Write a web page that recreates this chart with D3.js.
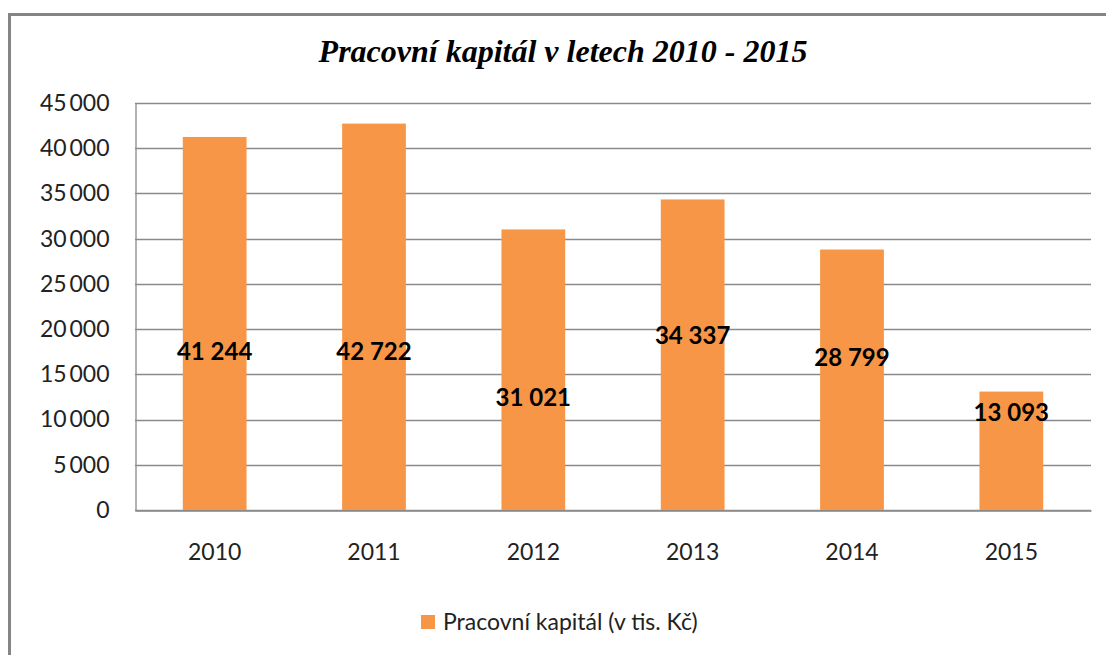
<!DOCTYPE html>
<html>
<head>
<meta charset="utf-8">
<script src="https://cdn.jsdelivr.net/npm/d3@7"></script>
<style>
  body { margin: 0; background: #fff; }
  svg { display: block; }
</style>
</head>
<body>
<div id="chart"></div>
<script>
// chart data
const years = ["2010", "2011", "2012", "2013", "2014", "2015"];
const values = [41244, 42722, 31021, 34337, 28799, 13093];
// where each data label sits, in axis units (labels were moved by hand in the original)
const labelAt = [17500, 17500, 12400, 19300, 16800, 10800];
const yTicks = [0, 5000, 10000, 15000, 20000, 25000, 30000, 35000, 40000, 45000];
const title = "Pracovní kapitál v letech 2010 - 2015";
const seriesName = "Pracovní kapitál (v tis. Kč)";

const width = 1106;
const height = 655;
const margin = { top: 103, right: 15, bottom: 145, left: 135 };

const svg = d3.select("#chart")
  .append("svg")
  .attr("width", width)
  .attr("height", height);

// frame lines (left and top)
svg.append("path")
  .attr("d", `M9.5,${height} V14.5 H${width}`)
  .attr("fill", "none")
  .attr("stroke", "#858585")
  .attr("stroke-width", 3);

const x = d3.scaleBand()
  .domain(years)
  .range([margin.left, width - margin.right])
  .paddingInner(0.6)
  .paddingOuter(0.3);

const y = d3.scaleLinear()
  .domain([0, 45000])
  .range([height - margin.bottom, margin.top]);

//number format with space as thousands separator
const fmt = d3.formatLocale({ thousands: "\u2009", grouping: [3], decimal: ",", currency: ["", ""] }).format(",d");
const fmtLabel = d3.formatLocale({ thousands: " ", grouping: [3], decimal: ",", currency: ["", ""] }).format(",d");

// grid
svg.append("g")
  .selectAll("line")
  .data(yTicks)
  .join("line")
  .attr("x1", margin.left)
  .attr("x2", width - margin.right)
  .attr("y1", d => Math.round(y(d)) + 0.5)
  .attr("y2", d => Math.round(y(d)) + 0.5)
  .attr("stroke", "#8a8a8a")
  .attr("stroke-width", 1.3);

// y axis
const yAxis = svg.append("g")
  .attr("transform", `translate(${margin.left + 0.5},0)`)
  .call(d3.axisLeft(y).tickValues(yTicks).tickFormat(fmt).tickSize(0).tickPadding(26));
yAxis.select(".domain").attr("stroke", "#8a8a8a").attr("stroke-width", 1.3);
yAxis.selectAll("text")
  .attr("font-family", "Lato, 'Open Sans', sans-serif")
  .attr("font-size", 23)
  .attr("fill", "#222");

// x axis
const xAxis = svg.append("g")
  .attr("transform", `translate(0,${Math.round(y(0)) + 0.5})`)
  .call(d3.axisBottom(x).tickSize(0).tickPadding(33));
xAxis.select(".domain").attr("stroke", "#8a8a8a").attr("stroke-width", 1.3);
xAxis.selectAll("text")
  .attr("font-family", "Lato, 'Open Sans', sans-serif")
  .attr("font-size", 23)
  .attr("fill", "#222");

// bars
svg.append("g")
  .selectAll("rect")
  .data(values)
  .join("rect")
  .attr("x", (d, i) => x(years[i]))
  .attr("width", x.bandwidth())
  .attr("y", d => y(d))
  .attr("height", d => y(0) - y(d))
  .attr("fill", "#F79646");

// data labels
svg.append("g")
  .selectAll("text")
  .data(values)
  .join("text")
  .attr("x", (d, i) => x(years[i]) + x.bandwidth() / 2)
  .attr("y", (d, i) => y(labelAt[i]))
  .attr("dy", "0.35em")
  .attr("text-anchor", "middle")
  .attr("font-family", "Lato, 'Open Sans', sans-serif")
  .attr("font-weight", "bold")
  .attr("font-size", 24)
  .attr("fill", "#000")
  .text(d => fmtLabel(d));

// title
svg.append("text")
  .attr("x", 563)
  .attr("y", 62)
  .attr("text-anchor", "middle")
  .attr("font-family", "'Liberation Serif', 'Times New Roman', serif")
  .attr("font-style", "italic")
  .attr("font-weight", "bold")
  .attr("font-size", 32)
  .attr("fill", "#000")
  .text(title);

// legend
const legend = svg.append("g").attr("transform", "translate(421,615)");
legend.append("rect")
  .attr("width", 14)
  .attr("height", 14)
  .attr("fill", "#F79646");
legend.append("text")
  .attr("x", 22)
  .attr("y", 7)
  .attr("dy", "0.35em")
  .attr("font-family", "Lato, 'Open Sans', sans-serif")
  .attr("font-size", 23)
  .attr("fill", "#222")
  .text(seriesName);
</script>
</body>
</html>
